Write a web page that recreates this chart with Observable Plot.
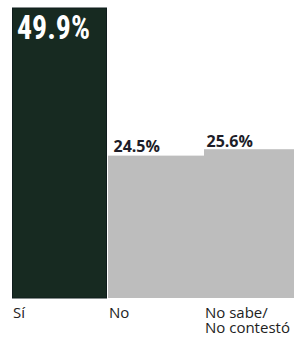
<!DOCTYPE html>
<html>
<head>
<meta charset="utf-8">
<script src="https://cdn.jsdelivr.net/npm/d3@7"></script>
<script src="https://cdn.jsdelivr.net/npm/@observablehq/plot@0.6"></script>
<style>
  html, body { margin: 0; padding: 0; background: #fff; overflow: hidden; }
</style>
</head>
<body>
<div id="chart"></div>
<script>
const categories = ["Sí", "No", "No sabe/\nNo contestó"];
const values = [49.9, 24.5, 25.6];
const valueLabels = ["49.9%", "24.5%", "25.6%"];

const data = categories.map((c, i) => ({cat: c, value: values[i], label: valueLabels[i], idx: i}));
const first = data.filter(d => d.idx === 0);
const rest = data.filter(d => d.idx !== 0);
const second = data.filter(d => d.idx === 1);
const third = data.filter(d => d.idx === 2);

const smallLabel = {
  x: "cat", y: "value", text: "label",
  textAnchor: "start", lineAnchor: "bottom",
  fill: "#1d1d28", fontSize: 16, fontWeight: "bold",
  fontFamily: "'Open Sans', sans-serif"
};

const chart = Plot.plot({
  width: 294,
  height: 338,
  marginLeft: 12,
  marginRight: -6,
  marginTop: 8,
  marginBottom: 40,
  style: {background: "#fff", overflow: "hidden"},
  x: {domain: categories, padding: 0, axis: null},
  y: {domain: [0, 49.9], axis: null},
  marks: [
    Plot.barY(rest, {x: "cat", y: "value", fill: "#bdbdbd"}),
    Plot.barY(first, {x: "cat", y: "value", fill: "#172a21", stroke: "#0f1c1c", strokeWidth: 1, insetRight: 1.5, insetLeft: 0.5}),
    Plot.text(first, {
      x: "cat", y: "value", text: "label",
      textAnchor: "start", lineAnchor: "top", dx: -43.5, dy: 6,
      fill: "#ffffff", fontSize: 34, fontWeight: "bold",
      fontFamily: "'Liberation Sans Narrow', 'Roboto Condensed', 'DejaVu Sans Condensed', sans-serif"
    }),
    Plot.text(second, {...smallLabel, dx: -43, dy: -4}),
    Plot.text(third, {...smallLabel, dx: -46, dy: -2.5}),
    Plot.text(data, {
      x: "cat", y: 0, text: "cat",
      textAnchor: "start", lineAnchor: "top", dx: -47.5, dy: 9,
      fill: "#222", fontSize: 15, lineHeight: 1.0,
      fontFamily: "'Open Sans', sans-serif"
    })
  ]
});

document.getElementById("chart").appendChild(chart);

// Compress the big white label to the reference's condensed width
const big = chart.querySelectorAll("g[aria-label='text']")[0];
if (big) {
  big.querySelectorAll("text").forEach(t => {
    t.setAttribute("textLength", 73);
    t.setAttribute("lengthAdjust", "spacingAndGlyphs");
  });
}
</script>
</body>
</html>
